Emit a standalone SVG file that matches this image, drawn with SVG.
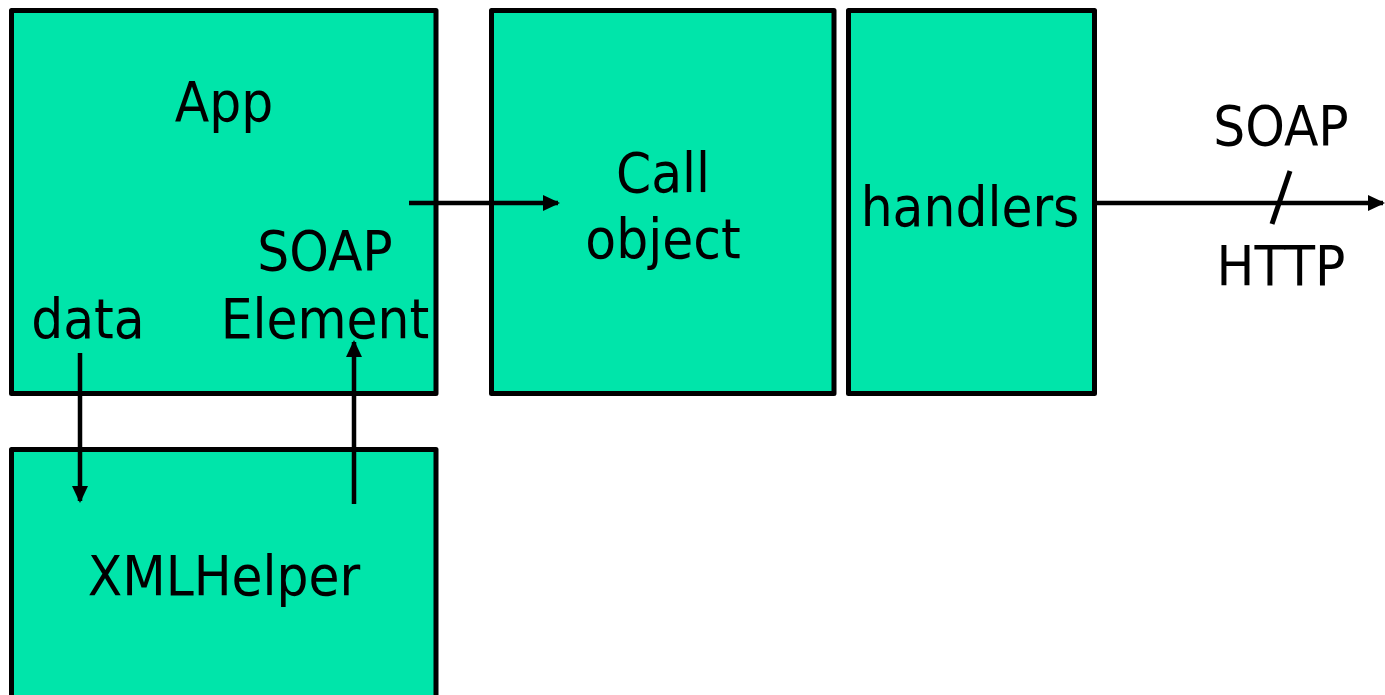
<svg xmlns="http://www.w3.org/2000/svg" width="1385" height="695" viewBox="0 0 1385 695">
<style>
.box{fill:#00E5AA;stroke:#000;stroke-width:5;stroke-linejoin:round}
.t{font-family:"DejaVu Sans Condensed","DejaVu Sans",sans-serif;font-size:56px;fill:#000;text-anchor:middle}
.c{stroke:#000;stroke-width:4.5;fill:none}
</style>
<defs>
<marker id="ah" viewBox="0 0 17 16" refX="15" refY="8" markerWidth="17" markerHeight="16" markerUnits="userSpaceOnUse" orient="auto">
<path d="M0,0 L17,8 L0,16 Z" fill="#000"/>
</marker>
</defs>
<g id="app">
<rect class="box" x="11.5" y="10.5" width="424.5" height="383"/>
<text class="t" x="224" y="121">App</text>
<text class="t" x="325" y="270">SOAP</text>
<text class="t" x="325" y="338">Element</text>
<text class="t" x="88" y="338">data</text>
</g>
<g id="xmlhelper">
<rect class="box" x="11.5" y="449.5" width="424.5" height="260"/>
<text class="t" x="224" y="595">XMLHelper</text>
</g>
<g id="call">
<rect class="box" x="491.5" y="10.5" width="342.5" height="383"/>
<text class="t" x="663" y="192">Call</text>
<text class="t" x="663" y="258">object</text>
</g>
<g id="handlers">
<rect class="box" x="848.5" y="10.5" width="246" height="383"/>
<text class="t" x="970" y="226">handlers</text>
</g>
<g id="transport">
<text class="t" x="1281" y="145">SOAP</text>
<text class="t" x="1281" y="285">HTTP</text>
</g>
<g id="connectors">
<line class="c" x1="409" y1="203" x2="558" y2="203" marker-end="url(#ah)"/>
<line class="c" x1="80" y1="353" x2="80" y2="501" marker-end="url(#ah)"/>
<line class="c" x1="354" y1="504" x2="354" y2="342" marker-end="url(#ah)"/>
<line class="c" x1="1097" y1="203" x2="1383" y2="203" marker-end="url(#ah)"/>
<line class="c" x1="1290" y1="171" x2="1272" y2="224" style="stroke-width:5"/>
</g>
</svg>
